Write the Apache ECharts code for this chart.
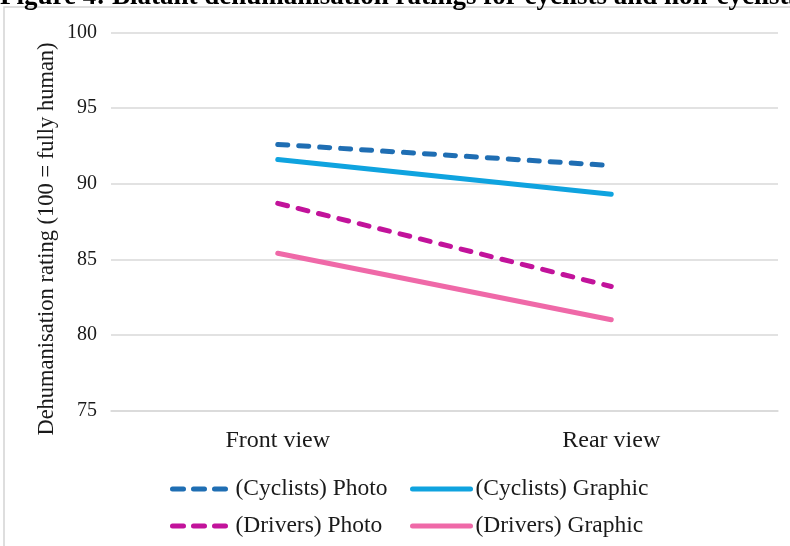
<!DOCTYPE html>
<html>
<head>
<meta charset="utf-8">
<script src="https://cdn.jsdelivr.net/npm/echarts@6/dist/echarts.min.js"></script>
<style>
html,body{margin:0;padding:0;background:#fff;}
#chart{width:790px;height:546px;}
</style>
</head>
<body>
<div id="chart"></div>
<script>
const categories = ['Front view', 'Rear view'];
const cyclistsPhoto = [92.6, 91.2];
const cyclistsGraphic = [91.6, 89.3];
const driversPhoto = [88.7, 83.2];
const driversGraphic = [85.4, 81.0];
const seriesNames = ['(Cyclists) Photo', '(Cyclists) Graphic', '(Drivers) Photo', '(Drivers) Graphic'];
const yTicks = { min: 75, max: 100, interval: 5 };

const serif = '"Liberation Serif", "DejaVu Serif", serif';
const colors = ['#1F6EB3', '#0FA3DF', '#C2139B', '#EF69A8'];
const dataArr = [cyclistsPhoto, cyclistsGraphic, driversPhoto, driversGraphic];
const dashed = [true, false, true, false];
const legendPos = [[165, 472], [405, 472], [165, 509], [405, 509]];

const chart = echarts.init(document.getElementById('chart'));
chart.setOption({
  animation: false,
  backgroundColor: '#fff',
  grid: { left: 111, right: 12, top: 32.5, bottom: 135.5 },
  xAxis: {
    type: 'category',
    data: categories,
    boundaryGap: true,
    axisLine: { show: true, lineStyle: { color: '#d9d9d9', width: 1.5 } },
    axisTick: { show: false },
    axisLabel: { fontFamily: serif, fontSize: 24, color: '#1a1a1a', margin: 18 }
  },
  yAxis: {
    type: 'value',
    min: yTicks.min, max: yTicks.max, interval: yTicks.interval,
    axisLine: { show: false },
    axisTick: { show: false },
    splitLine: { lineStyle: { color: '#d9d9d9', width: 1.5 } },
    axisLabel: { fontFamily: serif, fontSize: 20, color: '#1a1a1a', margin: 14 }
  },
  legend: seriesNames.map((n, i) => ({
    left: legendPos[i][0], top: legendPos[i][1], data: [n],
    itemWidth: 58, itemHeight: 20,
    itemStyle: { opacity: 0 },
    lineStyle: { width: 5, cap: 'round', type: dashed[i] ? [11, 10] : 'solid' },
    textStyle: { fontFamily: serif, fontSize: 23.5, color: '#1a1a1a' }
  })),
  series: seriesNames.map((n, i) => ({
    name: n,
    type: 'line',
    data: dataArr[i],
    symbol: 'none',
    color: colors[i],
    lineStyle: { width: 5, color: colors[i], cap: 'round', type: dashed[i] ? [10, 11] : 'solid' }
  })),
  graphic: [
    { type: 'rect', shape: { x: 4, y: 7, width: 820, height: 600 }, style: { fill: 'none', stroke: '#d4d4d4', lineWidth: 1.5 }, z: -1 },
    { type: 'text', left: 0, top: -16, style: { text: 'Figure 4: Blatant dehumanisation ratings for cyclists and non-cyclists', font: 'bold 27px ' + serif, fill: '#000' } },
    { type: 'text', x: 47, y: 239, rotation: Math.PI / 2, style: { text: 'Dehumanisation rating (100 = fully human)', font: '22.5px ' + serif, fill: '#1a1a1a', align: 'center', verticalAlign: 'middle' } }
  ]
});
</script>
</body>
</html>
